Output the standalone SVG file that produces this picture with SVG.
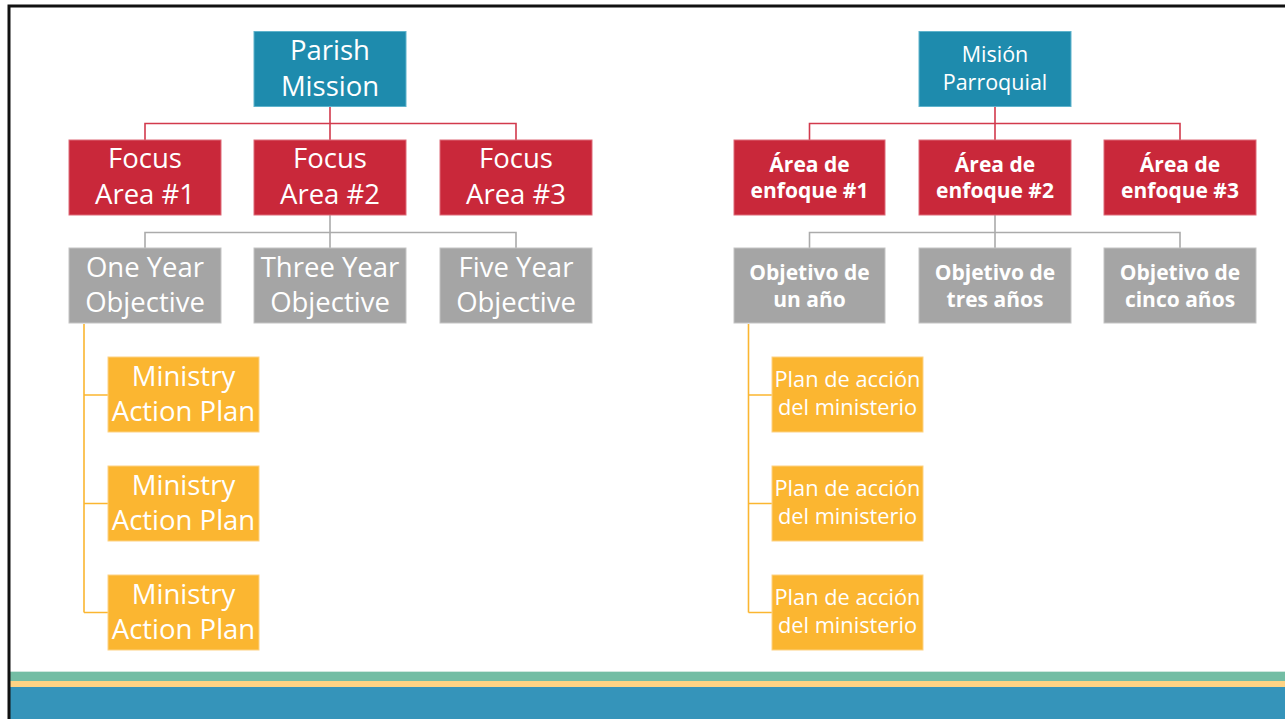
<svg xmlns="http://www.w3.org/2000/svg" width="1285" height="719" viewBox="0 0 1285 719">
<style>
.t{fill:#fff;font-family:"Open Sans","Liberation Sans",sans-serif;text-anchor:middle}
.L{font-size:27.5px}
.R{font-size:21.8px}
.M{font-size:21.5px}
.B{font-size:21px;font-weight:bold}
.blue{fill:#1E8BAD;stroke:#5FB3CC;stroke-width:1}
.red{fill:#C9283A;stroke:#DE6A78;stroke-width:1}
.gray{fill:#A5A5A5;stroke:#C4C4C4;stroke-width:1}
.org{fill:#FBB631;stroke:#FDD283;stroke-width:1}
.cr{stroke:#D23A4D;stroke-width:1.6;fill:none}
.cg{stroke:#ABABAB;stroke-width:1.6;fill:none}
.co{stroke:#FBB631;stroke-width:1.6;fill:none}
</style>
<rect width="1285" height="719" fill="#fff"/>
<rect x="10" y="671" width="1275" height="1" fill="#CFE8DF"/>
<rect x="10" y="672" width="1275" height="9" fill="#73BDA4"/>
<rect x="10" y="681" width="1275" height="6" fill="#FDD384"/>
<rect x="10" y="687" width="1275" height="32" fill="#3594BA"/>
<path d="M9 719 V6 H1285" stroke="#111" stroke-width="3" fill="none"/>
<g id="connectors">
<path class="cr" d="M330 107 V140 M145 140 V123.5 H516 V140"/>
<path class="cg" d="M330 215 V248 M145 248 V232.5 H516 V248"/>
<path class="co" d="M84 324 V612.5 M84 395 H108 M84 503.5 H108 M84 612.5 H108"/>
<path class="cr" d="M995 107 V140 M809.5 140 V123.5 H1180 V140"/>
<path class="cg" d="M995 215 V248 M809.5 248 V232.5 H1180 V248"/>
<path class="co" d="M748.5 324 V612.5 M748.5 395 H772 M748.5 503.5 H772 M748.5 612.5 H772"/>
</g>
<g id="parish-mission"><rect class="blue" x="254" y="31.5" width="152" height="75"/><text class="t L" x="330"><tspan x="330" y="60">Parish</tspan><tspan x="330" y="96">Mission</tspan></text></g>
<g id="focus1"><rect class="red" x="69" y="140" width="152" height="75"/><text class="t L"><tspan x="145" y="168">Focus</tspan><tspan x="145" y="204">Area #1</tspan></text></g>
<g id="focus2"><rect class="red" x="254" y="140" width="152" height="75"/><text class="t L"><tspan x="330" y="168">Focus</tspan><tspan x="330" y="204">Area #2</tspan></text></g>
<g id="focus3"><rect class="red" x="440" y="140" width="152" height="75"/><text class="t L"><tspan x="516" y="168">Focus</tspan><tspan x="516" y="204">Area #3</tspan></text></g>
<g id="obj1"><rect class="gray" x="69" y="248" width="152" height="75"/><text class="t L"><tspan x="145" y="277">One Year</tspan><tspan x="145" y="312">Objective</tspan></text></g>
<g id="obj3"><rect class="gray" x="254" y="248" width="152" height="75"/><text class="t L"><tspan x="330" y="277">Three Year</tspan><tspan x="330" y="312">Objective</tspan></text></g>
<g id="obj5"><rect class="gray" x="440" y="248" width="152" height="75"/><text class="t L"><tspan x="516" y="277">Five Year</tspan><tspan x="516" y="312">Objective</tspan></text></g>
<g id="map1"><rect class="org" x="108" y="357" width="151" height="75"/><text class="t L"><tspan x="183.5" y="386">Ministry</tspan><tspan x="183.5" y="421">Action Plan</tspan></text></g>
<g id="map2"><rect class="org" x="108" y="466" width="151" height="75"/><text class="t L"><tspan x="183.5" y="495">Ministry</tspan><tspan x="183.5" y="530">Action Plan</tspan></text></g>
<g id="map3"><rect class="org" x="108" y="575" width="151" height="75"/><text class="t L"><tspan x="183.5" y="604">Ministry</tspan><tspan x="183.5" y="639">Action Plan</tspan></text></g>
<g id="mision-parroquial"><rect class="blue" x="919" y="31.5" width="152" height="75"/><text class="t M"><tspan x="995" y="62">Misión</tspan><tspan x="995" y="90">Parroquial</tspan></text></g>
<g id="area1"><rect class="red" x="734" y="140" width="151" height="75"/><text class="t B"><tspan x="809.5" y="172">Área de</tspan><tspan x="809.5" y="198">enfoque #1</tspan></text></g>
<g id="area2"><rect class="red" x="919" y="140" width="152" height="75"/><text class="t B"><tspan x="995" y="172">Área de</tspan><tspan x="995" y="198">enfoque #2</tspan></text></g>
<g id="area3"><rect class="red" x="1104" y="140" width="152" height="75"/><text class="t B"><tspan x="1180" y="172">Área de</tspan><tspan x="1180" y="198">enfoque #3</tspan></text></g>
<g id="objetivo1"><rect class="gray" x="734" y="248" width="151" height="75"/><text class="t B"><tspan x="809.5" y="280">Objetivo de</tspan><tspan x="809.5" y="307">un año</tspan></text></g>
<g id="objetivo3"><rect class="gray" x="919" y="248" width="152" height="75"/><text class="t B"><tspan x="995" y="280">Objetivo de</tspan><tspan x="995" y="307">tres años</tspan></text></g>
<g id="objetivo5"><rect class="gray" x="1104" y="248" width="152" height="75"/><text class="t B"><tspan x="1180" y="280">Objetivo de</tspan><tspan x="1180" y="307">cinco años</tspan></text></g>
<g id="plan1"><rect class="org" x="772" y="357" width="151" height="75"/><text class="t R"><tspan x="847.5" y="387">Plan de acción</tspan><tspan x="847.5" y="415">del ministerio</tspan></text></g>
<g id="plan2"><rect class="org" x="772" y="466" width="151" height="75"/><text class="t R"><tspan x="847.5" y="496">Plan de acción</tspan><tspan x="847.5" y="524">del ministerio</tspan></text></g>
<g id="plan3"><rect class="org" x="772" y="575" width="151" height="75"/><text class="t R"><tspan x="847.5" y="605">Plan de acción</tspan><tspan x="847.5" y="633">del ministerio</tspan></text></g>
</svg>
